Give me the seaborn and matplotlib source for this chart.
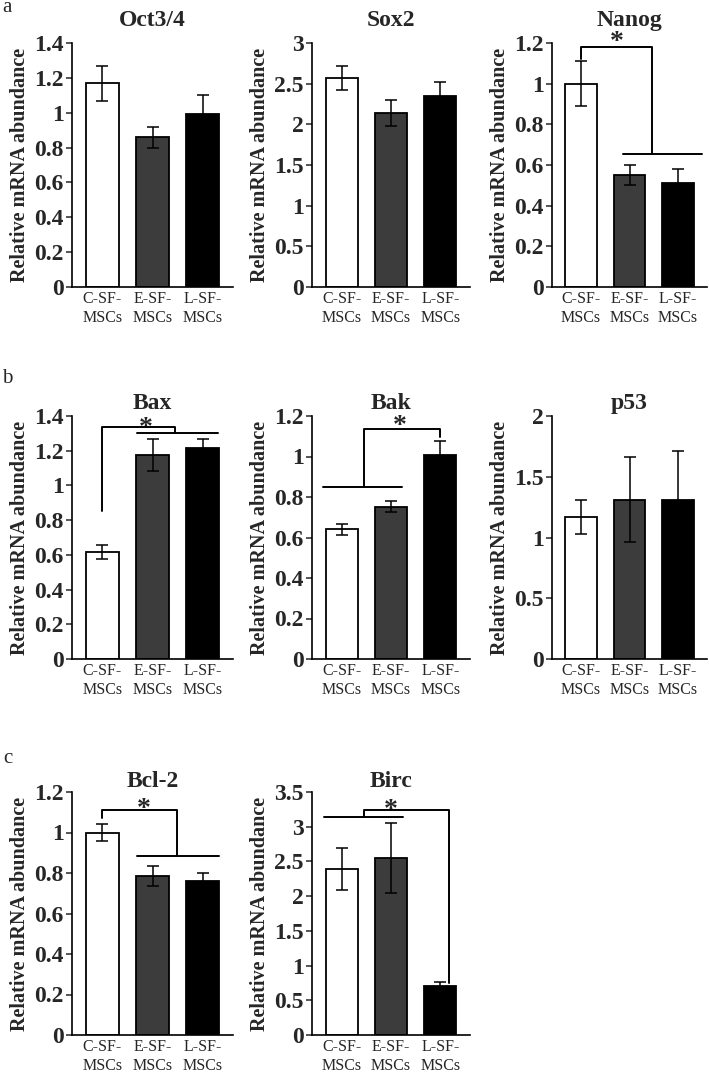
import numpy as np
import pandas as pd
import seaborn as sns
from matplotlib import pyplot as plt
from matplotlib.ticker import FuncFormatter

groups = ['C-SF-\nMSCs', 'E-SF-\nMSCs', 'L-SF-\nMSCs']
bar_colors = ['white', '#3c3c3c', 'black']

genes = ['Oct3/4', 'Sox2', 'Nanog', 'Bax', 'Bak', 'p53', 'Bcl-2', 'Birc']

means = {
    'Oct3/4': [1.17, 0.86, 0.99],
    'Sox2': [2.57, 2.14, 2.35],
    'Nanog': [1.00, 0.55, 0.51],
    'Bax': [0.615, 1.175, 1.215],
    'Bak': [0.64, 0.752, 1.008],
    'p53': [1.165, 1.31, 1.305],
    'Bcl-2': [1.00, 0.785, 0.76],
    'Birc': [2.39, 2.55, 0.705],
}

errors = {
    'Oct3/4': [0.10, 0.06, 0.11],
    'Sox2': [0.15, 0.16, 0.17],
    'Nanog': [0.11, 0.05, 0.07],
    'Bax': [0.04, 0.09, 0.05],
    'Bak': [0.027, 0.027, 0.07],
    'p53': [0.14, 0.35, 0.41],
    'Bcl-2': [0.04, 0.05, 0.04],
    'Birc': [0.30, 0.50, 0.06],
}

y_max = {'Oct3/4': 1.4, 'Sox2': 3, 'Nanog': 1.2, 'Bax': 1.4, 'Bak': 1.2,
         'p53': 2, 'Bcl-2': 1.2, 'Birc': 3.5}
y_step = {'Oct3/4': 0.2, 'Sox2': 0.5, 'Nanog': 0.2, 'Bax': 0.2, 'Bak': 0.2,
          'p53': 0.5, 'Bcl-2': 0.2, 'Birc': 0.5}

# significance brackets: polylines (x, y) in data units, and star (x, top y)
brackets = {
    'Nanog': [([0, 0, 1.47, 1.47], [1.12, 1.18, 1.18, 0.656]),
              ([0.86, 2.49], [0.656, 0.656])],
    'Bax': [([0, 0, 1.44, 1.44], [0.85, 1.337, 1.337, 1.30]),
            ([0.69, 2.30], [1.30, 1.30])],
    'Bak': [([-0.375, 1.22], [0.848, 0.848]),
            ([0.46, 0.46, 1.99, 1.99], [0.848, 1.134, 1.134, 1.097])],
    'Bcl-2': [([0, 0, 1.49, 1.49], [1.074, 1.112, 1.112, 0.884]),
              ([0.70, 2.33], [0.884, 0.884])],
    'Birc': [([-0.36, 1.24], [3.14, 3.14]),
             ([0.45, 0.45, 2.17, 2.17], [3.14, 3.245, 3.245, 0.743])],
}
stars = {'Nanog': (0.73, 1.262), 'Bax': (0.87, 1.40), 'Bak': (1.18, 1.21),
         'Bcl-2': (0.82, 1.175), 'Birc': (1.0, 3.42)}

W, H = 709, 1082
col_left = [72, 312, 552]
col_right = [233, 470, 707]
row_top = [43, 416, 792]
row_bottom = [287, 659, 1035]
title_pad = [12, 5, 2]
panel_letters = [('a', 2, 12), ('b', 2, 383), ('c', 3, 763)]


def draw_panel(fig, gene, row, col):
    left = col_left[col] / W
    bottom = 1 - row_bottom[row] / H
    width = (col_right[col] - col_left[col]) / W
    height = (row_bottom[row] - row_top[row]) / H
    ax = fig.add_axes([left, bottom, width, height])

    df = pd.DataFrame({'group': groups, 'value': means[gene]})
    sns.barplot(data=df, x='group', y='value', hue='group',
                palette=bar_colors, edgecolor='black', linewidth=1.3,
                width=0.65, errorbar=None, legend=False, ax=ax)
    ax.errorbar(np.arange(3), means[gene], yerr=errors[gene], fmt='none',
                ecolor='black', elinewidth=1.1, capsize=4.5, capthick=1.1,
                zorder=3)

    for xs, ys in brackets.get(gene, []):
        ax.plot(xs, ys, color='black', lw=1.4, clip_on=False, zorder=4)
    if gene in stars:
        sx, sy = stars[gene]
        ax.text(sx, sy, '*', ha='center', va='top', fontsize=20,
                fontweight='bold')

    ax.set_xlim(-0.6, 2.6)
    ax.set_ylim(0, y_max[gene])
    ax.set_yticks(np.arange(0, y_max[gene] + 1e-9, y_step[gene]))
    ax.yaxis.set_major_formatter(FuncFormatter(lambda v, p: f'{v:g}'))
    ax.tick_params(axis='y', labelsize=17, length=4, width=1.1, pad=2)
    ax.tick_params(axis='x', labelsize=11.5, length=0, pad=3)
    for lab in ax.get_yticklabels():
        lab.set_fontweight('bold')
    ax.set_xlabel('')
    ax.set_ylabel('Relative mRNA abundance', fontsize=14.5,
                  fontweight='bold', labelpad=3)
    ax.set_title(gene, fontsize=17, fontweight='bold', pad=title_pad[row])
    sns.despine(ax=ax)
    for s in ['left', 'bottom']:
        ax.spines[s].set_linewidth(1.2)
        ax.spines[s].set_color('black')
    return ax


def main():
    sns.set_style('ticks')
    plt.rcParams['font.family'] = ['Liberation Serif', 'DejaVu Serif']
    fig = plt.figure(figsize=(W / 100, H / 100), dpi=100)

    for i, gene in enumerate(genes):
        draw_panel(fig, gene, i // 3, i % 3)

    for letter, px, py in panel_letters:
        fig.text(px / W, 1 - py / H, letter, fontsize=15)

    fig.savefig('out.png', dpi=100)


if __name__ == '__main__':
    main()
